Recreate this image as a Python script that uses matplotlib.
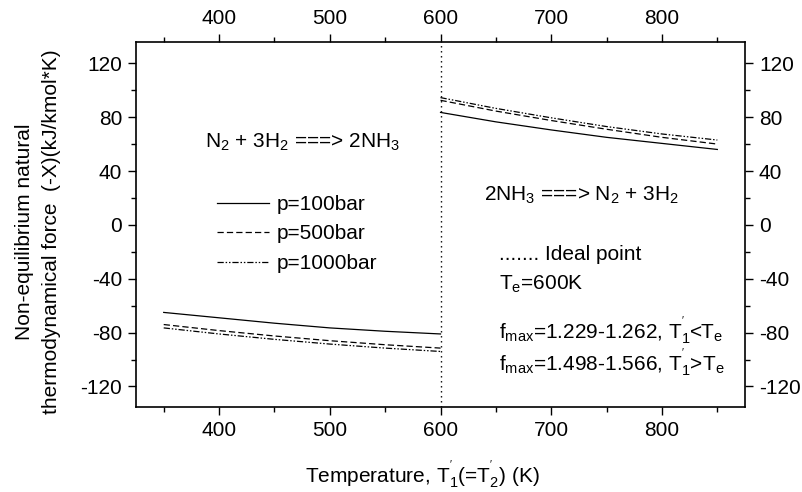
import matplotlib
matplotlib.use("Agg")
import matplotlib.pyplot as plt
from matplotlib.ticker import MultipleLocator

plt.rcParams['font.family'] = ['Liberation Sans', 'DejaVu Sans']
plt.rcParams['mathtext.fontset'] = 'custom'
plt.rcParams['mathtext.rm'] = 'Liberation Sans'
plt.rcParams['mathtext.it'] = 'Liberation Sans:italic'
plt.rcParams['mathtext.bf'] = 'Liberation Sans:bold'
plt.rcParams['axes.unicode_minus'] = False

FS = 15

# Synthesis branch (T below equilibrium temperature)
t_low = [350, 400, 450, 500, 550, 600]
x_low_100 = [-65.0, -69.0, -73.0, -76.5, -79.0, -81.0]
x_low_500 = [-74.0, -78.5, -82.5, -86.0, -89.0, -91.5]
x_low_1000 = [-76.5, -81.0, -85.0, -88.5, -91.5, -94.0]

# Decomposition branch (T above equilibrium temperature)
t_high = [600, 650, 700, 750, 800, 850]
x_high_100 = [83.5, 76.5, 70.5, 65.0, 60.5, 56.0]
x_high_500 = [92.5, 84.5, 77.5, 71.0, 65.0, 60.0]
x_high_1000 = [94.5, 86.5, 79.5, 73.0, 67.5, 63.0]

pressure_labels = ["p=100bar", "p=500bar", "p=1000bar"]
t_equilibrium = 600

fig = plt.figure(figsize=(8.03, 4.92), dpi=100)
ax = fig.add_axes([0.1694, 0.1734, 0.7584, 0.7418])

styles = [
    dict(color='black', lw=0.9, linestyle='-'),
    dict(color='black', lw=0.9, linestyle=(0, (5, 2.5))),
    dict(color='black', lw=0.9, linestyle=(0, (5, 1.5, 1.2, 1.5, 1.2, 1.5))),
]

handles = []
for ys_low, ys_high, st, lab in zip(
        [x_low_100, x_low_500, x_low_1000],
        [x_high_100, x_high_500, x_high_1000], styles, pressure_labels):
    h, = ax.plot(t_low, ys_low, label=lab, **st)
    ax.plot(t_high, ys_high, **st)
    handles.append(h)

ax.axvline(t_equilibrium, color='black', lw=1.0, linestyle=(0, (1, 2.6)))

ax.set_xlim(325, 875)
ax.set_ylim(-135, 136)
ax.xaxis.set_major_locator(MultipleLocator(100))
ax.xaxis.set_minor_locator(MultipleLocator(50))
ax.yaxis.set_major_locator(MultipleLocator(40))
ax.yaxis.set_minor_locator(MultipleLocator(20))
ax.set_xticks([400, 500, 600, 700, 800])

ax.tick_params(which='both', direction='out', top=True, right=True,
               labeltop=True, labelright=True, labelsize=FS, width=1.0)
ax.tick_params(which='major', length=6, pad=4)
ax.tick_params(which='minor', length=3.5)
for s in ax.spines.values():
    s.set_linewidth(1.2)

ax.set_xlabel(r"Temperature, T$_{1}^{'}$(=T$_{2}^{'}$) (K)", fontsize=FS, labelpad=14)
ax.xaxis.label.set_x(0.47)
ax.set_ylabel("Non-equilibrium natural\nthermodynamical force  (-X)(kJ/kmol*K)",
              fontsize=FS, labelpad=14, linespacing=1.5)
ax.yaxis.label.set_y(0.48)

ax.text(475, 61, r"N$_2$ + 3H$_2$ ===> 2NH$_3$", fontsize=FS,
        ha='center', va='center')
ax.text(727, 22, r"2NH$_3$ ===> N$_2$ + 3H$_2$", fontsize=FS,
        ha='center', va='center')

ax.text(653, -22, "....... Ideal point", fontsize=FS, ha='left', va='center')
ax.text(653, -44.5, r"T$_\mathrm{e}$=600K", fontsize=FS, ha='left', va='center')
ax.text(653, -79, r"f$_\mathrm{max}$=1.229-1.262, T$_1^{'}$<T$_\mathrm{e}$",
        fontsize=FS, ha='left', va='center')
ax.text(653, -102.5, r"f$_\mathrm{max}$=1.498-1.566, T$_1^{'}$>T$_\mathrm{e}$",
        fontsize=FS, ha='left', va='center')

ax.legend(handles=handles, loc='upper left',
          bbox_to_anchor=(217 / 803, 1 - 195 / 492),
          bbox_transform=fig.transFigure, frameon=False, fontsize=FS,
          handlelength=2.5, handletextpad=0.35, labelspacing=0.5,
          borderpad=0, borderaxespad=0)

fig.savefig("out.png", dpi=100)
